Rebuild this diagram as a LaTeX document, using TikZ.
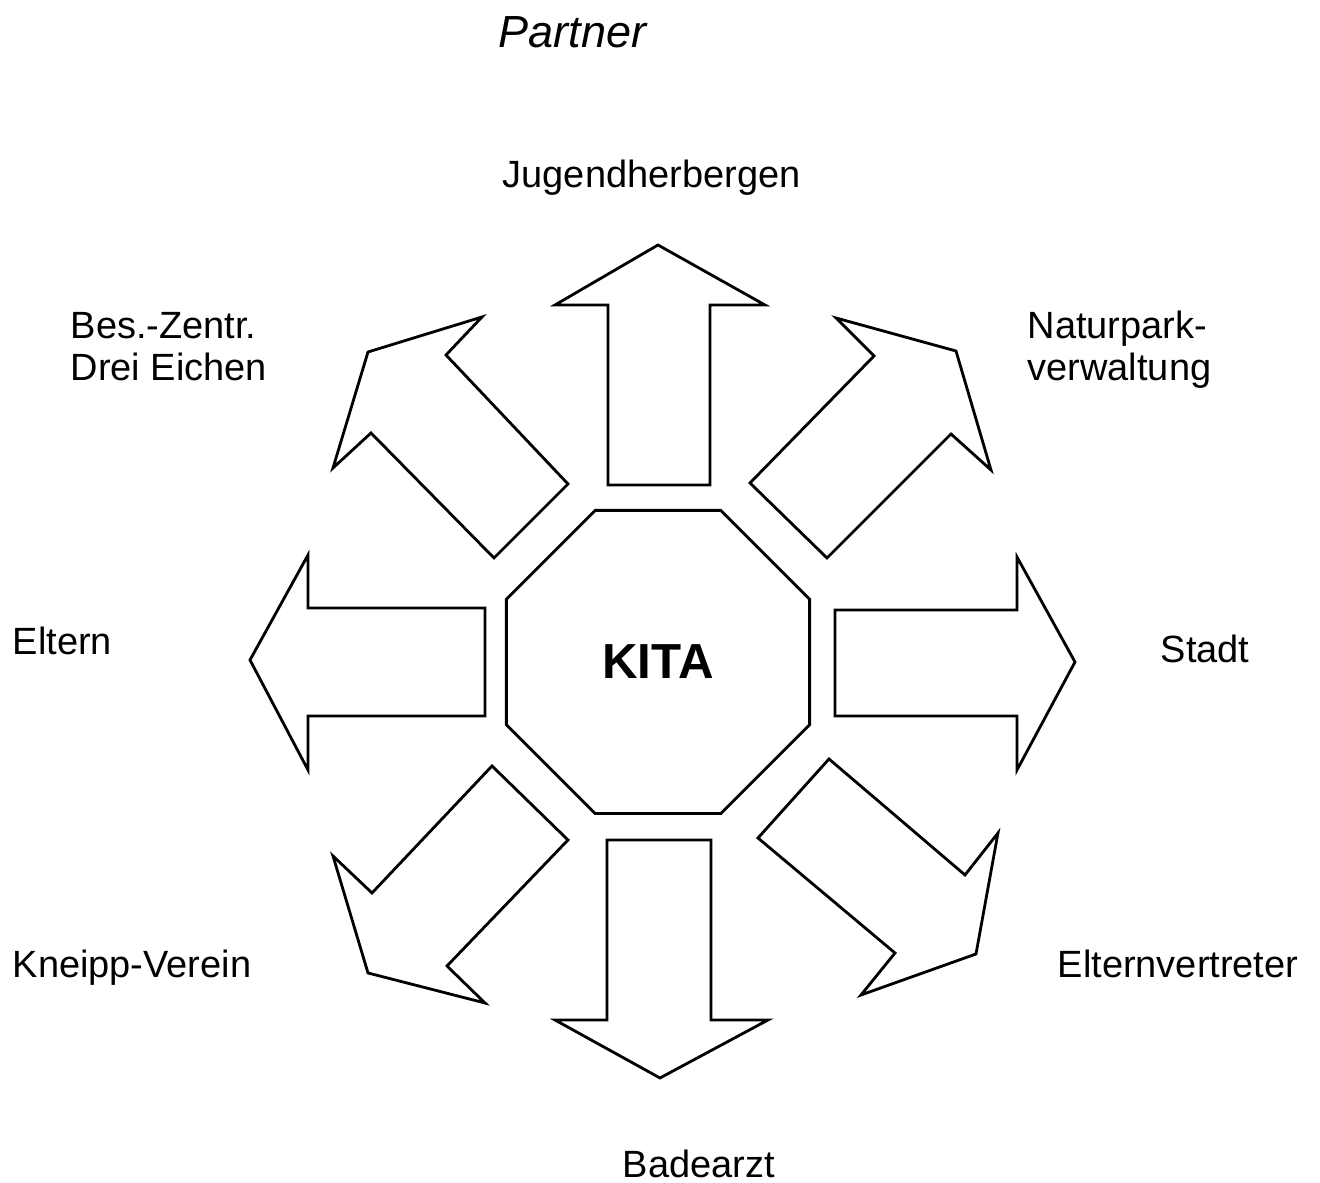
\documentclass[tikz,border=0pt]{standalone}
\usepackage{fontspec}
\setmainfont{Liberation Sans}
\usetikzlibrary{shapes.geometric}

\begin{document}
\begin{tikzpicture}[
    x=0.01cm, y=-0.01cm,
    partner/.style={anchor=base west,inner sep=0pt,align=left,font=\fontsize{10.8}{12.2}\selectfont},
    bigarrow/.style={draw,line width=0.8pt,line join=miter},
    centre/.style={regular polygon,regular polygon sides=8,draw,line width=0.8pt,minimum size=3.28cm,inner sep=0pt,font=\fontsize{14}{16}\selectfont\bfseries}
]
    \useasboundingbox (0,0) rectangle (1320,1183);
    \node[anchor=base west,inner sep=0pt,font=\fontsize{12.8}{15}\selectfont\itshape] (title) at (498,48) {Partner};
    \node[centre] (kita) at (658,662) {KITA};

    % straight arrows
    \draw[bigarrow] (608,485) -- (608,305) -- (555,305) -- (658,245) -- (765,305) -- (710,305) -- (710,485) -- cycle;
    \draw[bigarrow] (835,610) -- (1017,610) -- (1017,557) -- (1075,662) -- (1017,770) -- (1017,716) -- (835,716) -- cycle;
    \draw[bigarrow] (485,608) -- (308,608) -- (308,555) -- (250,660) -- (308,770) -- (308,716) -- (485,716) -- cycle;
    \draw[bigarrow] (607,840) -- (607,1020) -- (555,1020) -- (660,1078) -- (768,1020) -- (711,1020) -- (711,840) -- cycle;
    % diagonal arrows
    \draw[bigarrow] (750,483) -- (874,356) -- (836,318) -- (956,351) -- (991,470) -- (951,434) -- (827,558) -- cycle;
    \draw[bigarrow] (568,484) -- (446,355) -- (482,317) -- (368,352) -- (333,468) -- (371,433) -- (494,558) -- cycle;
    \draw[bigarrow] (492,766) -- (372,893) -- (333,856) -- (368,973) -- (485,1003) -- (447,966) -- (568,840) -- cycle;
    \draw[bigarrow] (829,759) -- (965,875) -- (998,833) -- (976,954) -- (861,995) -- (895,953) -- (758,838) -- cycle;

    % base = last line for the two-line labels
    \node[partner] (jh)  at (502,188)  {Jugendherbergen};
    \node[partner] (bes) at (70,381)   {Bes.-Zentr.\\Drei Eichen};
    \node[partner] (np)  at (1027,381) {Naturpark-\\verwaltung};
    \node[partner] (el)  at (12,655)   {Eltern};
    \node[partner] (st)  at (1160,663) {Stadt};
    \node[partner] (kn)  at (12,978)   {Kneipp-Verein};
    \node[partner] (ev)  at (1057,978) {Elternvertreter};
    \node[partner] (ba)  at (622,1178) {Badearzt};
\end{tikzpicture}
\end{document}
